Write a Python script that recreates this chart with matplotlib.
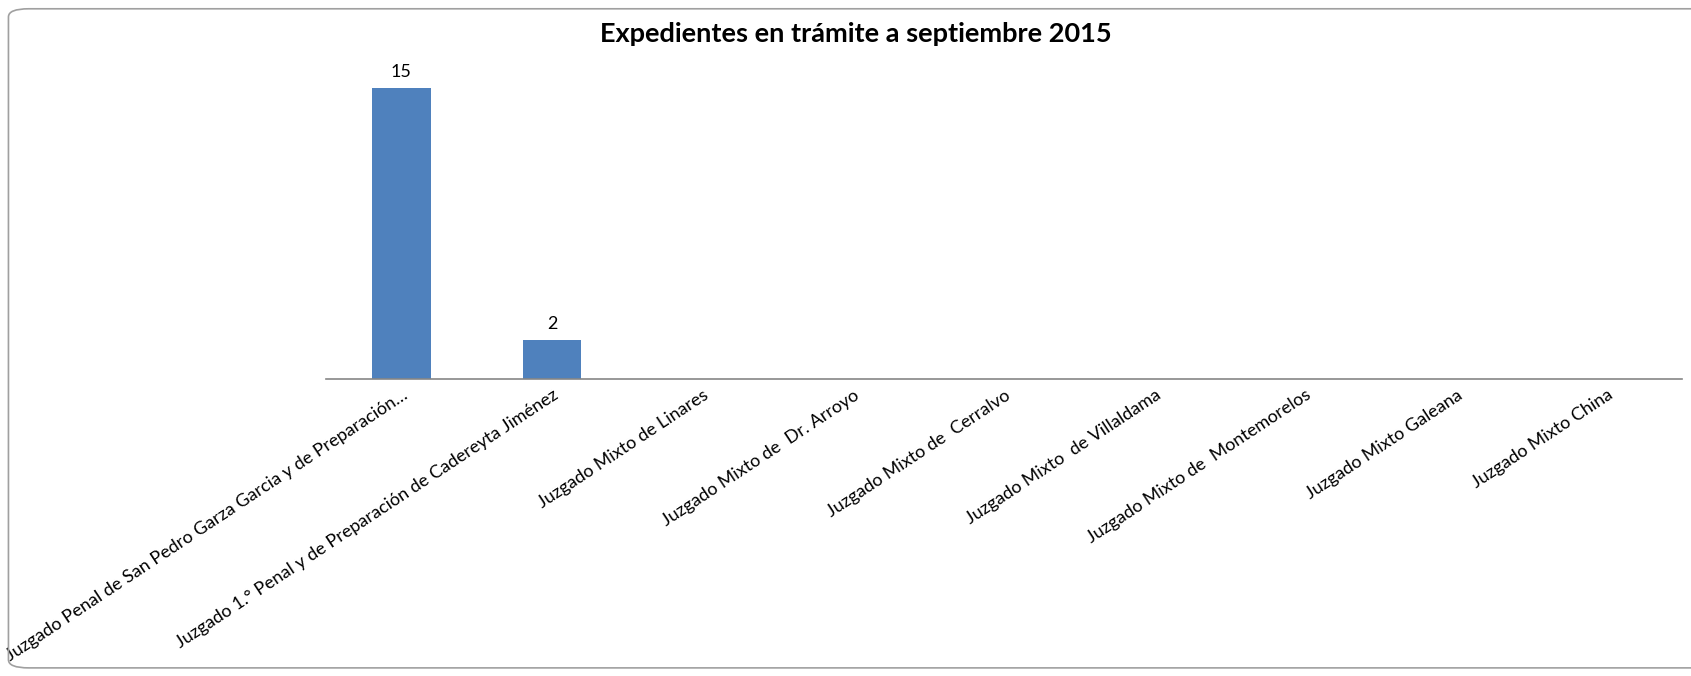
import matplotlib.pyplot as plt
import matplotlib.transforms as mtransforms
import numpy as np
from matplotlib.patches import FancyBboxPatch

# data
juzgados = ['Juzgado Penal de San Pedro Garza Garcia y de Preparación…',
            'Juzgado 1.° Penal y de Preparación de Cadereyta Jiménez',
            'Juzgado Mixto de Linares',
            'Juzgado Mixto de  Dr. Arroyo',
            'Juzgado Mixto de  Cerralvo',
            'Juzgado Mixto  de Villaldama',
            'Juzgado Mixto de  Montemorelos',
            'Juzgado Mixto Galeana',
            'Juzgado Mixto China']
expedientes = [15, 2, 0, 0, 0, 0, 0, 0, 0]
titulo = 'Expedientes en trámite a septiembre 2015'

plt.rcParams['font.family'] = ['Lato', 'DejaVu Sans']

fig = plt.figure(figsize=(16.91, 6.76), dpi=100)
ax = fig.add_axes([0.1928, 0.44, 0.8019, 0.459])

x = np.arange(len(juzgados))
bars = ax.bar(x, expedientes, width=0.39, color='#4f81bd')
ax.set_xlim(-0.5, len(juzgados) - 0.5)
ax.set_ylim(0, 16)

for b, v in zip(bars, expedientes):
    if v > 0:
        ax.text(b.get_x() + b.get_width() / 2, v + 0.4, str(v),
                ha='center', va='bottom', fontsize=13)

ax.set_xticks(x)
labels = ax.set_xticklabels(juzgados, rotation=33.5, ha='right', va='top',
                            rotation_mode='anchor', fontsize=13)
# excel puts the end of each label a little right of the tick
shift = mtransforms.ScaledTranslation(0.25, 0, fig.dpi_scale_trans)
for lab in labels:
    lab.set_transform(lab.get_transform() + shift)
ax.tick_params(axis='x', length=0, pad=6)
ax.set_yticks([])
for side in ['left', 'right', 'top']:
    ax.spines[side].set_visible(False)
ax.spines['bottom'].set_color('#868686')
ax.spines['bottom'].set_linewidth(1.2)

fig.text(0.506, 0.950, titulo, ha='center', va='center', fontsize=19.5, fontweight='bold')

# rounded chart border
border = FancyBboxPatch((0.005, 0.012), 1.2, 0.975, boxstyle='round,pad=0,rounding_size=0.012',
                        transform=fig.transFigure, fill=False, edgecolor='#a0a0a0', linewidth=1.2)
fig.patches.append(border)

fig.savefig('out.png', dpi=100)
